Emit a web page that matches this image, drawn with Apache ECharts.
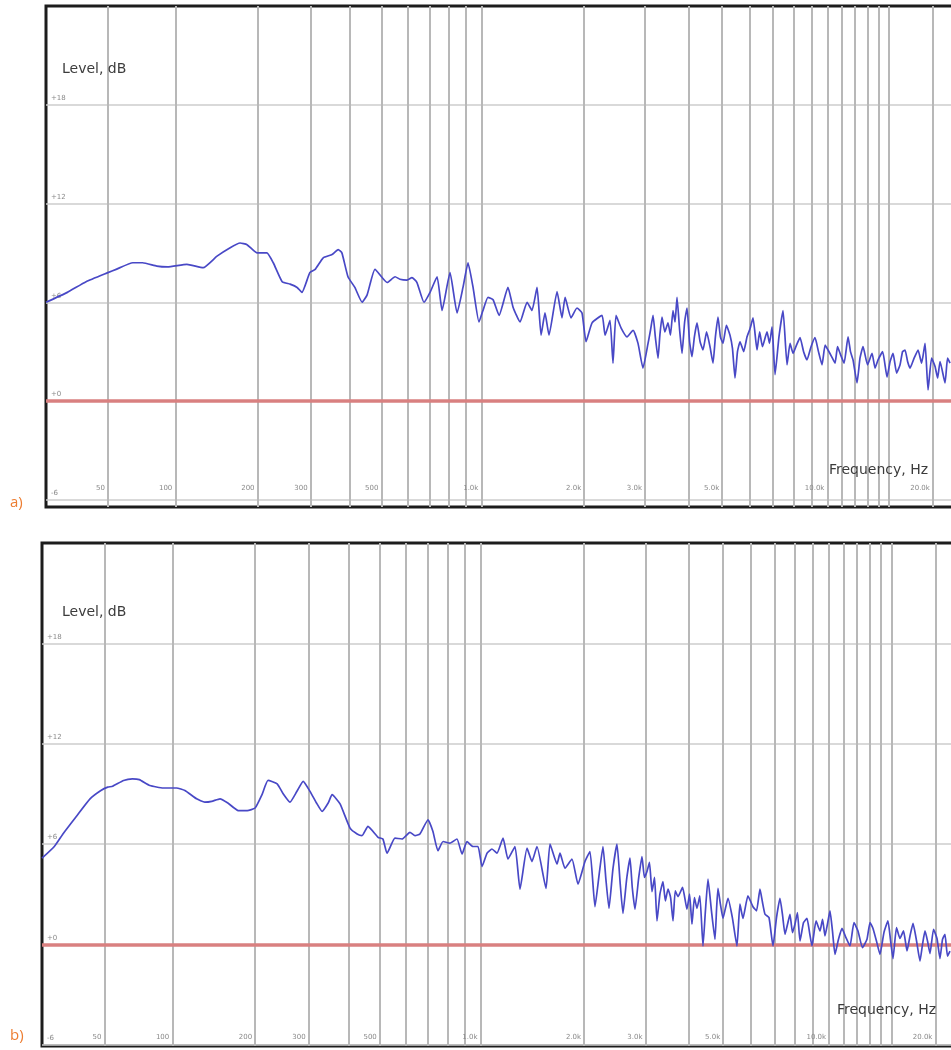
<!DOCTYPE html>
<html>
<head>
<meta charset="utf-8">
<title>Level vs frequency</title>
<script src="https://cdn.jsdelivr.net/npm/echarts@6.0.0/dist/echarts.min.js"></script>
<style>
  html, body { margin: 0; padding: 0; background: #fff; }
  #chart { width: 951px; height: 1050px; }
</style>
</head>
<body>
<div id="chart"></div>
<script>
// panel a) : frequency (Hz) and level (dB)
var freqA = [
  20, 29, 38, 50, 55, 66, 73, 84, 93, 111,
  128, 144, 160, 174, 184, 199, 215, 226, 242, 257,
  271, 281, 298, 310, 329, 351, 367, 377, 394, 414,
  436, 452, 478, 521, 551, 570, 599, 620, 642, 674,
  703, 738, 764, 807, 847, 882, 913, 945, 984, 1011,
  1046, 1083, 1128, 1198, 1240, 1300, 1363, 1409, 1458, 1498,
  1538, 1580, 1668, 1724, 1760, 1831, 1906, 1971, 2025, 2108,
  2253, 2299, 2376, 2424, 2473, 2557, 2661, 2770, 2863, 2959,
  3060, 3110, 3163, 3215, 3270, 3310, 3357, 3420, 3493, 3550,
  3611, 3660, 3708, 3770, 3833, 3900, 3962, 4030, 4095, 4160,
  4233, 4320, 4404, 4510, 4612, 4705, 4780, 4863, 4940, 5026,
  5140, 5264, 5350, 5441, 5530, 5625, 5760, 5890, 6010, 6127,
  6291, 6400, 6520, 6720, 6830, 6946, 7085, 7270, 7468, 7667,
  7820, 7976, 8160, 8352, 8550, 8745, 8980, 9218, 9430, 9653,
  9850, 10042, 10280, 10515, 10690, 10866, 11160, 11454, 11640, 11836,
  12151, 12390, 12641, 13020, 13411, 13680, 13952, 14380, 14802, 15100,
  15398, 15760, 16122, 16390, 16660, 16940, 17215, 17680, 18145, 18570,
  18999, 19375, 19830, 20290, 20630, 20967, 21664, 22020, 22386
];
var levelA = [
  6.0, 6.6, 7.25, 7.8, 8.0, 8.4, 8.4, 8.2, 8.15, 8.3,
  8.1, 8.8, 9.3, 9.6, 9.5, 9.0, 9.0, 8.4, 7.25, 7.1,
  6.9, 6.6, 7.8, 8.0, 8.7, 8.9, 9.2, 9.0, 7.55, 6.9,
  6.0, 6.45, 8.0, 7.2, 7.55, 7.4, 7.35, 7.5, 7.2, 6.0,
  6.6, 7.55, 5.5, 7.8, 5.35, 6.9, 8.4, 6.9, 4.8, 5.5,
  6.3, 6.15, 5.2, 6.9, 5.7, 4.8, 6.0, 5.5, 6.9, 4.0,
  5.35, 4.0, 6.65, 5.05, 6.3, 5.05, 5.65, 5.35, 3.6, 4.75,
  5.2, 4.0, 4.9, 2.3, 5.2, 4.45, 3.9, 4.3, 3.5, 2.0,
  3.5, 4.3, 5.2, 3.8, 2.6, 4.0, 5.1, 4.2, 4.75, 4.0,
  5.5, 4.8, 6.3, 4.4, 2.9, 4.8, 5.65, 3.6, 2.7, 3.9,
  4.75, 3.6, 3.1, 4.2, 3.3, 2.3, 3.9, 5.1, 3.9, 3.5,
  4.6, 4.0, 3.2, 1.4, 3.0, 3.6, 3.0, 3.9, 4.4, 5.05,
  3.1, 4.2, 3.3, 4.2, 3.5, 4.5, 1.6, 3.9, 5.5, 2.2,
  3.5, 2.9, 3.4, 3.85, 3.0, 2.5, 3.3, 3.85, 3.0, 2.2,
  3.4, 3.1, 2.7, 2.3, 3.3, 2.9, 2.3, 3.9, 3.0, 2.5,
  1.1, 2.6, 3.3, 2.2, 2.9, 2.0, 2.5, 3.0, 1.45, 2.4,
  2.9, 1.7, 2.2, 3.0, 3.1, 2.4, 2.0, 2.6, 3.1, 2.3,
  3.5, 0.67, 2.6, 2.1, 1.4, 2.4, 1.1, 2.6, 2.3
];

// panel b)
var freqB = [
  20, 25, 29, 35, 42, 48, 52, 55, 62, 68,
  73, 81, 92, 104, 112, 124, 133, 141, 151, 161,
  175, 188, 200, 211, 221, 237, 248, 261, 275, 288,
  303, 319, 331, 346, 356, 377, 405, 426, 441, 460,
  494, 511, 526, 556, 584, 617, 639, 661, 699, 723,
  748, 775, 812, 852, 882, 912, 950, 983, 1010, 1045,
  1080, 1117, 1164, 1203, 1261, 1304, 1367, 1413, 1461, 1552,
  1594, 1670, 1704, 1761, 1845, 1920, 2011, 2079,
  2149, 2210, 2266, 2310, 2358, 2420, 2486, 2540, 2586, 2650,
  2709, 2750, 2800, 2870, 2932, 2980, 3030, 3080, 3132, 3185,
  3237, 3300, 3367, 3420, 3480, 3540, 3597, 3650, 3717, 3830,
  3942, 4010, 4074, 4140, 4210, 4290, 4380, 4450, 4526, 4630,
  4738, 4790, 4833, 4910, 4994, 5080, 5161, 5310, 5473, 5580,
  5693, 5880, 6078, 6220, 6363, 6470, 6576, 6750, 6928, 7090,
  7252, 7370, 7494, 7620, 7743, 7870, 7999, 8130, 8265, 8460,
  8653, 8800, 8940, 9180, 9420, 9580, 9733, 9890, 10056, 10220,
  10389, 10630, 10876, 11160, 11458, 11760, 12072, 12430, 12803, 13060,
  13315, 13620, 13935, 14300, 14680, 14920, 15170, 15520, 15876, 16250,
  16621, 16950, 17287, 17690, 18091, 18390, 18692, 19000, 19310, 19760,
  20210, 20606, 20950, 21290, 21640, 21998
];
var levelB = [
  5.15, 5.85, 6.65, 7.65, 8.7, 9.2, 9.4, 9.45, 9.8, 9.9,
  9.85, 9.5, 9.35, 9.35, 9.2, 8.7, 8.5, 8.55, 8.7, 8.45,
  8.0, 8.0, 8.15, 8.95, 9.8, 9.6, 9.0, 8.5, 9.15, 9.75,
  9.15, 8.4, 7.95, 8.45, 8.95, 8.4, 6.95, 6.6, 6.5, 7.05,
  6.4, 6.3, 5.45, 6.35, 6.3, 6.7, 6.5, 6.6, 7.45, 6.75,
  5.6, 6.15, 6.05, 6.3, 5.4, 6.15, 5.85, 5.85, 4.65, 5.45,
  5.7, 5.45, 6.35, 5.1, 5.85, 3.3, 5.75, 4.95, 5.85, 3.35,
  6.0, 4.8, 5.45, 4.55, 5.1, 3.6, 4.95, 5.55,
  2.25, 4.2, 5.85, 3.9, 2.15, 4.5, 6.0, 3.6, 1.85, 3.9,
  5.15, 3.4, 2.1, 4.0, 5.25, 4.0, 4.35, 4.9, 3.15, 4.0,
  1.4, 3.0, 3.75, 2.6, 3.3, 2.8, 1.4, 3.2, 2.85, 3.4,
  2.1, 3.0, 1.2, 2.8, 2.15, 2.9, -0.1, 2.0, 3.9, 2.0,
  0.3, 2.2, 3.35, 2.4, 1.55, 2.2, 2.75, 1.6, -0.1, 2.4,
  1.55, 2.9, 2.25, 2.0, 3.3, 2.5, 1.8, 1.6, -0.1, 1.6,
  2.75, 1.8, 0.6, 1.2, 1.8, 0.7, 1.2, 1.9, 0.2, 1.3,
  1.55, 0.7, -0.1, 1.4, 0.8, 1.5, 0.5, 1.2, 2.0, 0.8,
  -0.6, 0.3, 0.95, 0.4, -0.1, 1.3, 0.8, -0.2, 0.3, 1.3,
  0.95, 0.2, -0.6, 0.7, 1.4, 0.3, -0.85, 1.0, 0.35, 0.8,
  -0.4, 0.5, 1.25, 0.2, -1.0, 0.0, 0.8, 0.2, -0.55, 0.9,
  0.35, -0.85, 0.3, 0.6, -0.7, -0.4
];

// grid lines and tick labels
var gridFreqs = [50, 100, 200, 300, 400, 500, 600, 700, 800, 900, 1000,
  2000, 3000, 4000, 5000, 6000, 7000, 8000, 9000, 10000,
  11000, 12000, 13000, 14000, 15000, 20000];
var labelFreqs = [50, 100, 200, 300, 500, 1000, 2000, 3000, 5000, 10000, 20000];
var levelTicks = [-6, 0, 6, 12, 18];

var FMIN = 20;

// the analyzer's frequency scale is log(f + 40)
function fx(f) { return Math.log10(f + 40); }

function fmtFreq(v) {
  var f = Math.round(Math.pow(10, v) - 40);
  return f < 1000 ? String(f) : (f / 1000).toFixed(1) + 'k';
}
function fmtLevel(v) { return v >= 0 ? '+' + v : String(v); }

function pairs(fs, ls) {
  return fs.map(function (f, i) { return [fx(f), ls[i]]; });
}

var smallText = { fontSize: 7, color: '#8a8a8a', fontFamily: 'DejaVu Sans' };

function xAxisFor(idx, fmax, labelMargin) {
  return {
    type: 'value', gridIndex: idx,
    min: fx(FMIN), max: fx(fmax),
    axisLine: { show: false },
    axisTick: { show: false, customValues: gridFreqs.map(fx) },
    splitLine: { show: true, lineStyle: { color: '#b8b8b8', width: 2 } },
    axisLabel: Object.assign({
      inside: true, customValues: labelFreqs.map(fx), formatter: fmtFreq,
      align: 'right', verticalAlign: 'middle', margin: labelMargin, padding: [0, 3, 0, 0]
    }, smallText)
  };
}
function yAxisFor(idx, min) {
  return {
    type: 'value', gridIndex: idx, min: min, max: 24,
    axisLine: { show: false },
    axisTick: { show: false, customValues: levelTicks },
    splitLine: { show: true, lineStyle: { color: '#cdcdcd', width: 1.5 } },
    axisLabel: Object.assign({
      inside: true, customValues: levelTicks, formatter: fmtLevel,
      align: 'left', verticalAlign: 'bottom', margin: 5, padding: [0, 0, 3, 0]
    }, smallText)
  };
}
function curve(idx, data) {
  return {
    type: 'line', xAxisIndex: idx, yAxisIndex: idx, data: data,
    symbol: 'none', smooth: 0.15, z: 3,
    lineStyle: { color: '#4848c6', width: 1.7 },
    markLine: {
      silent: true, symbol: 'none', z: 1, label: { show: false },
      lineStyle: { color: '#d98080', width: 3.5, type: 'solid' },
      data: [{ yAxis: 0 }]
    }
  };
}

var labelStyle = { fontSize: 14, fontWeight: 'normal', color: '#3c3c3c', fontFamily: 'DejaVu Sans' };
var capStyle = { fontSize: 15, fontWeight: 'normal', color: '#ed7d31', fontFamily: 'Open Sans', lineHeight: 18 };

var myChart = echarts.init(document.getElementById('chart'));
var option = {
  animation: false,
  backgroundColor: '#fff',
  title: [
    { text: 'Level, dB', left: 62, top: 62, padding: 0, textStyle: labelStyle },
    { text: 'Frequency, Hz', left: 829, top: 463, padding: 0, textStyle: labelStyle },
    { text: 'a)', left: 10, top: 494, padding: 0, textStyle: capStyle },
    { text: 'Level, dB', left: 62, top: 605, padding: 0, textStyle: labelStyle },
    { text: 'Frequency, Hz', left: 837, top: 1003, padding: 0, textStyle: labelStyle },
    { text: 'b)', left: 10, top: 1027, padding: 0, textStyle: capStyle }
  ],
  grid: [
    { left: 46, top: 6, width: 929, height: 501, show: true, backgroundColor: '#fff',
      borderColor: '#1c1c1c', borderWidth: 3, outerBoundsMode: 'none' },
    { left: 42, top: 543, width: 933, height: 503, show: true, backgroundColor: '#fff',
      borderColor: '#1c1c1c', borderWidth: 3, outerBoundsMode: 'none' }
  ],
  xAxis: [xAxisFor(0, 26370, 19), xAxisFor(1, 25890, 9)],
  yAxis: [yAxisFor(0, -6.44), yAxisFor(1, -6.08)],
  series: [curve(0, pairs(freqA, levelA)), curve(1, pairs(freqB, levelB))]
};
myChart.setOption(option);
</script>
</body>
</html>
